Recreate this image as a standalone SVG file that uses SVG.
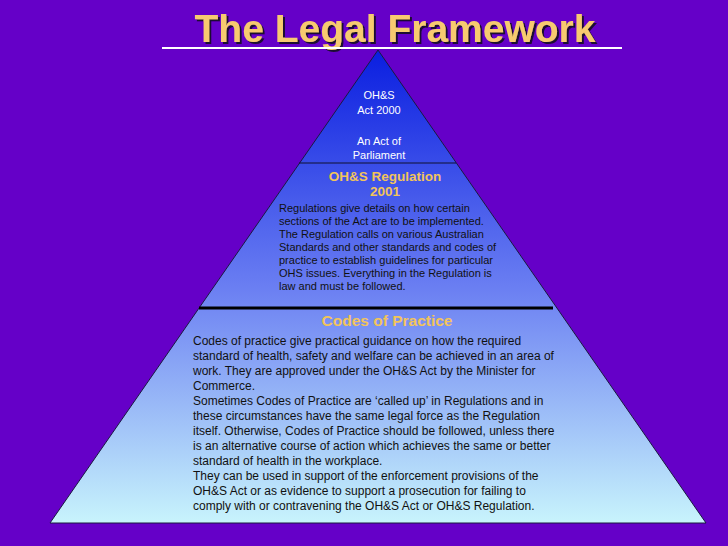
<svg xmlns="http://www.w3.org/2000/svg" width="728" height="546" viewBox="0 0 728 546">
<defs>
<linearGradient id="g" x1="0" y1="50" x2="0" y2="523" gradientUnits="userSpaceOnUse">
<stop offset="0" stop-color="#0a1ee0"/>
<stop offset="0.5" stop-color="#6a7ef2"/>
<stop offset="1" stop-color="#c8f4fc"/>
</linearGradient>
<filter id="sh"><feDropShadow dx="2" dy="2" stdDeviation="0.5" flood-color="#1a0a30"/></filter>
</defs>
<style>
text{font-family:"Liberation Sans",Arial,sans-serif}
.w{fill:#ffffff;font-size:11px;text-anchor:middle}
.y{fill:#f2c45a;font-weight:bold;text-anchor:middle}
.b{fill:#111111;font-size:11px}
.c{fill:#111111;font-size:12px}
</style>
<rect width="728" height="546" fill="#6500c8"/>
<g id="title">
<text x="395" y="42" text-anchor="middle" font-size="39" font-weight="bold" fill="#f7ca70" filter="url(#sh)">The Legal Framework</text>
<line x1="162" y1="48" x2="622" y2="48" stroke="#ffffff" stroke-width="2"/>
</g>
<g id="pyramid">
<polygon points="378,50 706,523 50,523" fill="url(#g)" stroke="#1a1a40" stroke-width="1"/>
</g>
<g id="connectors">
<line x1="299" y1="163" x2="456" y2="163" stroke="#101030" stroke-width="1.2"/>
<line x1="199" y1="308" x2="553" y2="308" stroke="#000000" stroke-width="3"/>
</g>
<g id="act">
<text class="w" x="379" y="99">OH&amp;S</text>
<text class="w" x="379" y="114">Act 2000</text>
<text class="w" x="379" y="145">An Act of</text>
<text class="w" x="379" y="159">Parliament</text>
</g>
<g id="regulation">
<text class="y" x="385" y="181" font-size="13.5">OH&amp;S Regulation</text>
<text class="y" x="385" y="196" font-size="13.5">2001</text>
<text class="b" x="279" y="212">Regulations give details on how certain</text>
<text class="b" x="279" y="225">sections of the Act are to be implemented.</text>
<text class="b" x="279" y="238">The Regulation calls on various Australian</text>
<text class="b" x="279" y="251">Standards and other standards and codes of</text>
<text class="b" x="279" y="264">practice to establish guidelines for particular</text>
<text class="b" x="279" y="277">OHS issues. Everything in the Regulation is</text>
<text class="b" x="279" y="290">law and must be followed.</text>
</g>
<g id="codes">
<text class="y" x="387" y="326" font-size="15.5">Codes of Practice</text>
<text class="c" x="193" y="345">Codes of practice give practical guidance on how the required</text>
<text class="c" x="193" y="360">standard of health, safety and welfare can be achieved in an area of</text>
<text class="c" x="193" y="375">work. They are approved under the OH&amp;S Act by the Minister for</text>
<text class="c" x="193" y="390">Commerce.</text>
<text class="c" x="193" y="405">Sometimes Codes of Practice are ‘called up’ in Regulations and in</text>
<text class="c" x="193" y="420">these circumstances have the same legal force as the Regulation</text>
<text class="c" x="193" y="435">itself. Otherwise, Codes of Practice should be followed, unless there</text>
<text class="c" x="193" y="450">is an alternative course of action which achieves the same or better</text>
<text class="c" x="193" y="465">standard of health in the workplace.</text>
<text class="c" x="193" y="480">They can be used in support of the enforcement provisions of the</text>
<text class="c" x="193" y="495">OH&amp;S Act or as evidence to support a prosecution for failing to</text>
<text class="c" x="193" y="510">comply with or contravening the OH&amp;S Act or OH&amp;S Regulation.</text>
</g>
</svg>
